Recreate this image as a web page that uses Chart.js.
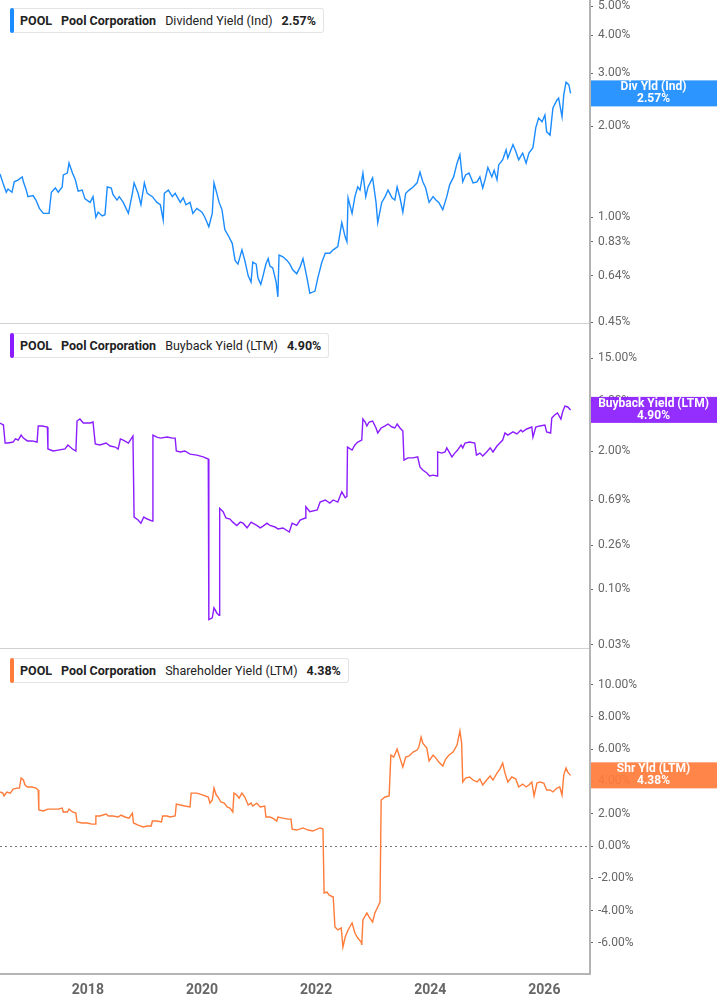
<!DOCTYPE html>
<html>

<head>
  <meta charset="UTF-8">
  <script src="https://cdn.jsdelivr.net/npm/chart.js"></script>
  <title>POOL | Yields</title>
  <style>
    body { margin: 0; background: #fff; width: 717px; height: 1005px; overflow: hidden; font-family: Roboto, sans-serif; }
    canvas { position: absolute; left: 0; }
    .legenda { position: absolute; left: 10px; height: 23px; border: 1px solid #e4e4e4; border-left: none; border-radius: 3px;
      background: #fff; display: flex; align-items: center; padding: 0 7px 0 10px; font-size: 12.5px; color: #222; z-index: 5; white-space: nowrap; }
    .legenda::before { content: ''; position: absolute; left: 0; top: -1px; bottom: -1px; width: 4px; border-radius: 2px; background: var(--cor); }
    .legenda span { margin-right: 9px; }
    .legenda span:last-child { margin-right: 0; }
    .legenda .b { font-weight: 700; }
  </style>
</head>

<body>
  <div class="legenda" style="top:8px; --cor:#1b8cff">
    <span class="b">POOL</span><span class="b">Pool Corporation</span><span>Dividend Yield (Ind)</span><span class="b">2.57%</span>
  </div>
  <div class="legenda" style="top:333px; --cor:#8b1cff">
    <span class="b">POOL</span><span class="b">Pool Corporation</span><span>Buyback Yield (LTM)</span><span class="b">4.90%</span>
  </div>
  <div class="legenda" style="top:658px; --cor:#ff7b39">
    <span class="b">POOL</span><span class="b">Pool Corporation</span><span>Shareholder Yield (LTM)</span><span class="b">4.38%</span>
  </div>

  <canvas id="divChart" width="717" height="340" style="top:0px"></canvas>
  <canvas id="bbChart" width="717" height="349" style="top:316px"></canvas>
  <canvas id="shrChart" width="717" height="364" style="top:641px"></canvas>
</body>

</html>

<script>
  // dates in decimal years, yields in %
  var divDates = [
    2016.46, 2016.51, 2016.57, 2016.60, 2016.67, 2016.71, 2016.78, 2016.85, 2016.87, 2016.92,
    2016.95, 2017.04, 2017.09, 2017.15, 2017.22, 2017.32, 2017.36, 2017.43, 2017.48, 2017.55,
    2017.57, 2017.64, 2017.67, 2017.73, 2017.78, 2017.83, 2017.90, 2017.95, 2018.04, 2018.09,
    2018.14, 2018.18, 2018.25, 2018.30, 2018.34, 2018.41, 2018.44, 2018.51, 2018.55, 2018.62,
    2018.71, 2018.78, 2018.81, 2018.88, 2018.93, 2018.99, 2019.04, 2019.13, 2019.21, 2019.27,
    2019.32, 2019.34, 2019.41, 2019.48, 2019.53, 2019.62, 2019.67, 2019.72, 2019.79, 2019.84,
    2019.91, 2020.00, 2020.05, 2020.12, 2020.18, 2020.21, 2020.26, 2020.30, 2020.35, 2020.40,
    2020.46, 2020.53, 2020.58, 2020.63, 2020.70, 2020.75, 2020.81, 2020.86, 2020.89, 2020.95,
    2020.98, 2021.03, 2021.07, 2021.12, 2021.16, 2021.19, 2021.24, 2021.30, 2021.33, 2021.35,
    2021.42, 2021.49, 2021.54, 2021.59, 2021.66, 2021.72, 2021.77, 2021.84, 2021.89, 2021.98,
    2022.03, 2022.10, 2022.16, 2022.24, 2022.30, 2022.38, 2022.45, 2022.51, 2022.54, 2022.56,
    2022.63, 2022.68, 2022.73, 2022.77, 2022.82, 2022.87, 2022.91, 2022.99, 2023.05, 2023.08,
    2023.15, 2023.21, 2023.26, 2023.33, 2023.38, 2023.42, 2023.47, 2023.52, 2023.57, 2023.63,
    2023.70, 2023.77, 2023.82, 2023.87, 2023.92, 2023.98, 2024.05, 2024.10, 2024.15, 2024.22,
    2024.29, 2024.34, 2024.41, 2024.47, 2024.52, 2024.57, 2024.62, 2024.68, 2024.75, 2024.82,
    2024.87, 2024.92, 2024.96, 2025.01, 2025.08, 2025.12, 2025.17, 2025.20, 2025.27, 2025.33,
    2025.36, 2025.45, 2025.50, 2025.55, 2025.62, 2025.68, 2025.73, 2025.80, 2025.85, 2025.90,
    2025.96, 2026.01, 2026.04, 2026.10, 2026.15, 2026.22, 2026.25, 2026.31, 2026.34, 2026.38,
    2026.43, 2026.46
  ];
  var divYield = [
    1.39, 1.30, 1.21, 1.24, 1.21, 1.31, 1.33, 1.36, 1.31, 1.23,
    1.17, 1.18, 1.14, 1.07, 1.03, 1.03, 1.21, 1.25, 1.21, 1.26,
    1.38, 1.40, 1.51, 1.40, 1.33, 1.22, 1.23, 1.15, 1.12, 1.17,
    1.00, 1.04, 1.01, 1.02, 1.26, 1.25, 1.19, 1.14, 1.17, 1.12,
    1.03, 1.20, 1.30, 1.20, 1.10, 1.30, 1.20, 1.17, 1.12, 1.10,
    0.98, 1.20, 1.23, 1.17, 1.20, 1.12, 1.16, 1.10, 1.12, 1.03,
    1.07, 1.04, 1.00, 0.93, 1.03, 1.30, 1.20, 1.12, 1.06, 0.91,
    0.87, 0.82, 0.72, 0.70, 0.78, 0.72, 0.64, 0.61, 0.71, 0.70,
    0.63, 0.60, 0.64, 0.70, 0.73, 0.69, 0.68, 0.61, 0.545, 0.75,
    0.74, 0.72, 0.70, 0.67, 0.65, 0.685, 0.73, 0.63, 0.56, 0.57,
    0.63, 0.71, 0.76, 0.76, 0.78, 0.80, 0.96, 0.86, 0.83, 1.16,
    1.03, 1.17, 1.26, 1.23, 1.40, 1.17, 1.26, 1.35, 1.12, 0.96,
    1.12, 1.17, 1.23, 1.16, 1.14, 1.26, 1.16, 1.04, 1.20, 1.23,
    1.26, 1.30, 1.41, 1.31, 1.25, 1.12, 1.17, 1.14, 1.12, 1.06,
    1.17, 1.28, 1.36, 1.51, 1.61, 1.31, 1.38, 1.40, 1.30, 1.31,
    1.36, 1.25, 1.33, 1.46, 1.36, 1.43, 1.33, 1.49, 1.55, 1.67,
    1.57, 1.74, 1.65, 1.55, 1.63, 1.51, 1.63, 1.70, 1.98, 2.13,
    2.07, 2.18, 1.92, 1.87, 2.30, 2.44, 2.48, 2.15, 2.54, 2.80,
    2.74, 2.57
  ];

  var bbDates = [
    2016.46, 2016.52, 2016.55, 2016.60, 2016.69, 2016.73, 2016.78, 2016.83, 2016.87, 2016.94,
    2017.02, 2017.11, 2017.13, 2017.20, 2017.29, 2017.30, 2017.39, 2017.48, 2017.60, 2017.65,
    2017.73, 2017.79, 2017.81, 2017.86, 2017.92, 2018.04, 2018.09, 2018.13, 2018.21, 2018.32,
    2018.39, 2018.48, 2018.53, 2018.57, 2018.62, 2018.71, 2018.79, 2018.81, 2018.88, 2018.93,
    2018.98, 2019.04, 2019.13, 2019.14, 2019.21, 2019.27, 2019.39, 2019.48, 2019.53, 2019.55,
    2019.62, 2019.70, 2019.79, 2019.91, 2020.02, 2020.11, 2020.12, 2020.18, 2020.21, 2020.26,
    2020.30, 2020.31, 2020.37, 2020.42, 2020.49, 2020.54, 2020.61, 2020.67, 2020.72, 2020.79,
    2020.86, 2020.89, 2020.96, 2021.02, 2021.07, 2021.14, 2021.19, 2021.28, 2021.33, 2021.42,
    2021.53, 2021.58, 2021.66, 2021.72, 2021.81, 2021.82, 2021.89, 2022.02, 2022.07, 2022.16,
    2022.24, 2022.30, 2022.38, 2022.45, 2022.51, 2022.54, 2022.55, 2022.63, 2022.68, 2022.73,
    2022.80, 2022.82, 2022.86, 2022.89, 2022.93, 2022.99, 2023.05, 2023.08, 2023.14, 2023.21,
    2023.26, 2023.33, 2023.38, 2023.42, 2023.47, 2023.52, 2023.54, 2023.61, 2023.70, 2023.78,
    2023.82, 2023.87, 2023.94, 2023.99, 2024.05, 2024.12, 2024.13, 2024.20, 2024.26, 2024.29,
    2024.38, 2024.43, 2024.48, 2024.54, 2024.57, 2024.61, 2024.69, 2024.78, 2024.81, 2024.87,
    2024.92, 2024.99, 2025.05, 2025.10, 2025.17, 2025.22, 2025.27, 2025.31, 2025.36, 2025.45,
    2025.52, 2025.59, 2025.62, 2025.69, 2025.78, 2025.80, 2025.85, 2025.92, 2026.01, 2026.04,
    2026.11, 2026.13, 2026.18, 2026.23, 2026.29, 2026.32, 2026.36, 2026.41, 2026.46
  ];
  var bbYield = [
    3.69, 3.53, 2.39, 2.39, 2.44, 2.61, 2.55, 2.84, 2.66, 2.50,
    2.50, 2.44, 3.46, 3.46, 3.38, 2.10, 2.01, 2.05, 2.10, 2.29,
    2.10, 2.01, 3.85, 4.02, 3.69, 3.69, 3.77, 2.34, 2.29, 2.39,
    2.24, 2.19, 2.10, 2.61, 2.55, 2.39, 2.78, 0.48, 0.45, 0.42,
    0.48, 0.46, 0.44, 2.84, 2.72, 2.66, 2.72, 2.66, 2.66, 2.01,
    1.97, 2.01, 1.88, 1.84, 1.77, 1.69, 0.052, 0.054, 0.067, 0.060,
    0.057, 0.58, 0.54, 0.47, 0.46, 0.43, 0.40, 0.43, 0.42, 0.38,
    0.43, 0.42, 0.40, 0.38, 0.395, 0.42, 0.40, 0.387, 0.371, 0.379,
    0.347, 0.42, 0.40, 0.45, 0.47, 0.60, 0.54, 0.56, 0.665, 0.695,
    0.65, 0.695, 0.665, 0.83, 0.73, 0.75, 2.19, 2.05, 2.29, 2.44,
    2.55, 4.02, 3.77, 3.46, 3.77, 3.85, 3.31, 2.97, 3.31, 3.46,
    3.61, 3.38, 3.31, 3.61, 3.31, 3.10, 1.65, 1.73, 1.73, 1.77,
    1.42, 1.33, 1.25, 1.17, 1.19, 1.17, 1.97, 1.92, 1.97, 2.15,
    1.77, 1.92, 2.05, 2.29, 2.15, 2.39, 2.44, 2.39, 1.84, 1.92,
    1.80, 1.97, 2.15, 1.97, 2.24, 2.39, 2.55, 2.97, 2.84, 3.04,
    2.91, 3.17, 3.04, 3.24, 3.38, 2.72, 3.38, 3.46, 3.53, 3.04,
    2.97, 4.11, 4.39, 4.58, 4.02, 4.68, 5.33, 5.22, 4.90
  ];

  var shrDates = [
    2016.46, 2016.51, 2016.53, 2016.58, 2016.64, 2016.69, 2016.76, 2016.80, 2016.83, 2016.87,
    2016.90, 2016.94, 2017.02, 2017.09, 2017.13, 2017.14, 2017.22, 2017.30, 2017.39, 2017.48,
    2017.55, 2017.57, 2017.64, 2017.67, 2017.73, 2017.79, 2017.81, 2017.90, 2017.99, 2018.07,
    2018.13, 2018.14, 2018.21, 2018.32, 2018.36, 2018.44, 2018.53, 2018.58, 2018.65, 2018.72,
    2018.78, 2018.80, 2018.88, 2018.97, 2019.04, 2019.11, 2019.13, 2019.21, 2019.29, 2019.31,
    2019.39, 2019.44, 2019.53, 2019.55, 2019.62, 2019.70, 2019.79, 2019.81, 2019.91, 2020.02,
    2020.11, 2020.14, 2020.18, 2020.21, 2020.25, 2020.28, 2020.33, 2020.39, 2020.44, 2020.49,
    2020.54, 2020.56, 2020.61, 2020.65, 2020.70, 2020.75, 2020.81, 2020.86, 2020.89, 2020.96,
    2021.02, 2021.10, 2021.12, 2021.19, 2021.24, 2021.31, 2021.33, 2021.42, 2021.51, 2021.56,
    2021.58, 2021.66, 2021.77, 2021.86, 2021.94, 2022.07, 2022.12, 2022.14, 2022.19, 2022.23,
    2022.30, 2022.33, 2022.38, 2022.44, 2022.47, 2022.51, 2022.56, 2022.63, 2022.68, 2022.73,
    2022.79, 2022.80, 2022.82, 2022.89, 2022.93, 2022.99, 2023.03, 2023.08, 2023.12, 2023.14,
    2023.21, 2023.28, 2023.31, 2023.36, 2023.42, 2023.47, 2023.52, 2023.57, 2023.63, 2023.70,
    2023.77, 2023.80, 2023.84, 2023.87, 2023.94, 2023.98, 2024.05, 2024.10, 2024.15, 2024.22,
    2024.27, 2024.33, 2024.40, 2024.47, 2024.52, 2024.55, 2024.57, 2024.62, 2024.69, 2024.75,
    2024.82, 2024.87, 2024.92, 2024.99, 2025.05, 2025.10, 2025.17, 2025.22, 2025.27, 2025.31,
    2025.36, 2025.43, 2025.50, 2025.55, 2025.62, 2025.68, 2025.73, 2025.78, 2025.82, 2025.87,
    2025.92, 2025.99, 2026.04, 2026.10, 2026.15, 2026.22, 2026.27, 2026.31, 2026.34, 2026.38,
    2026.41, 2026.46
  ];
  var shrYield = [
    3.35, 3.28, 3.10, 3.35, 3.28, 3.53, 3.59, 3.59, 4.21, 4.09,
    3.78, 3.66, 3.66, 3.59, 3.47, 2.23, 2.17, 2.29, 2.29, 2.29,
    2.35, 2.11, 2.11, 2.29, 2.11, 2.04, 1.49, 1.43, 1.43, 1.36,
    1.36, 1.86, 1.86, 1.98, 1.86, 1.86, 1.80, 1.92, 1.80, 1.73,
    2.04, 1.43, 1.30, 1.18, 1.24, 1.24, 1.55, 1.55, 1.49, 1.86,
    1.86, 1.80, 1.86, 2.60, 2.54, 2.48, 2.42, 3.28, 3.28, 3.16,
    3.04, 2.66, 2.85, 3.59, 3.16, 3.04, 2.73, 2.66, 2.42, 2.35,
    2.11, 3.28, 3.16, 2.97, 3.28, 3.04, 2.54, 2.66, 2.48, 2.66,
    2.42, 2.48, 1.80, 1.80, 1.73, 1.55, 1.80, 1.73, 1.67, 1.67,
    1.05, 0.99, 1.12, 0.99, 0.93, 1.12, 1.05, -2.91, -2.85, -3.04,
    -3.16, -5.02, -5.20, -5.08, -6.26, -5.64, -5.20, -4.77, -5.39, -5.70,
    -5.95, -6.13, -4.58, -4.15, -4.40, -4.71, -4.15, -3.78, -3.47, 2.85,
    3.04, 3.10, 5.64, 5.51, 6.01, 5.45, 4.89, 5.51, 5.58, 5.82,
    5.95, 6.13, 6.75, 6.38, 6.07, 5.27, 5.64, 5.45, 5.20, 4.96,
    5.39, 5.64, 5.82, 6.26, 7.13, 6.38, 3.97, 4.21, 4.28, 4.09,
    3.97, 4.15, 3.78, 4.09, 4.34, 4.09, 4.52, 4.77, 5.14, 4.52,
    3.97, 4.28, 4.15, 3.66, 3.84, 3.66, 3.78, 3.97, 3.10, 3.90,
    3.97, 3.90, 3.47, 3.47, 3.35, 3.59, 3.66, 3.16, 4.40, 4.83,
    4.58, 4.38
  ];

  var divTicks = [5, 4, 3, 2, 1, 0.83, 0.64, 0.45];
  var bbTicks = [15, 6, 2, 0.69, 0.26, 0.10, 0.03];
  var shrTicks = [10, 8, 6, 4, 2, 0, -2, -4, -6];
  var yearTicks = [2018, 2020, 2022, 2024, 2026];

  var xMin = 2016.46;
  var xMax = 2026.80;

  Chart.defaults.font.family = 'Roboto, sans-serif';
  Chart.defaults.color = '#666';

  function pct(v) {
    return Number(v).toFixed(2) + '%';
  }

  function juntar(datas, valores) {
    var pts = [];
    for (var i = 0; i < datas.length; i++) {
      pts.push({ x: datas[i], y: valores[i] });
    }
    return pts;
  }

  // separator, zero line and the coloured value tag on the right
  var enfeites = {
    id: 'enfeites',
    beforeDatasetsDraw: function (chart, args, o) {
      var ctx = chart.ctx;
      var a = chart.chartArea;
      ctx.save();
      if (o.sep) {
        ctx.strokeStyle = '#d0d0d0';
        ctx.lineWidth = 1;
        ctx.beginPath();
        ctx.moveTo(a.left, a.bottom - 0.5);
        ctx.lineTo(a.right, a.bottom - 0.5);
        ctx.stroke();
      }
      if (o.zero) {
        var y0 = Math.round(chart.scales.y.getPixelForValue(0)) + 0.5;
        ctx.strokeStyle = '#777';
        ctx.lineWidth = 1;
        ctx.setLineDash([2, 3]);
        ctx.beginPath();
        ctx.moveTo(a.left, y0);
        ctx.lineTo(a.right, y0);
        ctx.stroke();
      }
      ctx.restore();
    },
    afterDraw: function (chart, args, o) {
      var ctx = chart.ctx;
      var a = chart.chartArea;
      var pts = chart.data.datasets[0].data;
      var ultimo = pts[pts.length - 1].y;
      var y = chart.scales.y.getPixelForValue(ultimo);
      var cx = (a.right + chart.width) / 2;
      ctx.save();
      ctx.globalAlpha = 0.92;
      ctx.fillStyle = o.color;
      ctx.fillRect(a.right + 1, y - 13, chart.width - a.right - 1, 26);
      ctx.globalAlpha = 1;
      ctx.fillStyle = '#fff';
      ctx.font = 'bold 12px Roboto, sans-serif';
      ctx.textAlign = 'center';
      ctx.textBaseline = 'middle';
      ctx.fillText(o.tag, cx, y - 6);
      ctx.fillText(pct(ultimo), cx, y + 6);
      ctx.restore();
    }
  };

  function eixoY(tipo, min, max, ticks) {
    return {
      type: tipo,
      position: 'right',
      min: min,
      max: max,
      afterBuildTicks: function (s) {
        s.ticks = ticks.map(function (v) { return { value: v }; });
      },
      afterFit: function (s) {
        s.width = 127;
        s.paddingTop = 0;
        s.paddingBottom = 0;
      },
      ticks: {
        callback: function (v) { return pct(v); },
        font: { size: 12 },
        color: '#666',
        padding: 5,
        autoSkip: false
      },
      grid: { drawOnChartArea: false, tickLength: 3, color: '#666' },
      border: { color: '#b4b4b4', width: 2 }
    };
  }

  function eixoX(mostrar) {
    return {
      type: 'linear',
      min: xMin,
      max: xMax,
      display: mostrar,
      afterBuildTicks: function (s) {
        s.ticks = yearTicks.map(function (v) { return { value: v }; });
      },
      afterFit: function (s) {
        s.height = mostrar ? 31 : 0;
        s.paddingLeft = 0;
        s.paddingRight = 0;
      },
      ticks: {
        callback: function (v) { return String(v); },
        font: { size: 14, weight: 'bold' },
        color: '#666',
        padding: 8,
        maxRotation: 0,
        autoSkip: false
      },
      grid: { display: false, drawTicks: false },
      border: { color: '#b4b4b4', width: 2 }
    };
  }

  function painel(id, pts, cor, y, pad, extra) {
    return new Chart(document.getElementById(id), {
      type: 'line',
      data: {
        datasets: [{
          data: pts,
          borderColor: cor,
          borderWidth: 1.4,
          pointRadius: 0,
          tension: 0,
          fill: false
        }]
      },
      options: {
        responsive: false,
        animation: false,
        events: [],
        layout: { padding: pad },
        scales: { x: eixoX(extra.eixoX), y: y },
        plugins: {
          legend: { display: false },
          tooltip: { enabled: false },
          enfeites: { color: cor, tag: extra.tag, sep: extra.sep, zero: extra.zero }
        }
      },
      plugins: [enfeites]
    });
  }

  painel('divChart', juntar(divDates, divYield), '#1b8cff',
    eixoY('logarithmic', 0.4434, 5.235, divTicks),
    { top: 0, bottom: 16, left: 0, right: 0 },
    { tag: 'Div Yld (Ind)', sep: true, zero: false, eixoX: false });

  painel('bbChart', juntar(bbDates, bbYield), '#8b1cff',
    eixoY('logarithmic', 0.02747, 31.55, bbTicks),
    { top: 8, bottom: 16, left: 0, right: 0 },
    { tag: 'Buyback Yield (LTM)', sep: true, zero: false, eixoX: false });

  painel('shrChart', juntar(shrDates, shrYield), '#ff7b39',
    eixoY('linear', -7.93, 12.21, shrTicks),
    { top: 8, bottom: 0, left: 0, right: 0 },
    { tag: 'Shr Yld (LTM)', sep: false, zero: true, eixoX: true });
</script>
